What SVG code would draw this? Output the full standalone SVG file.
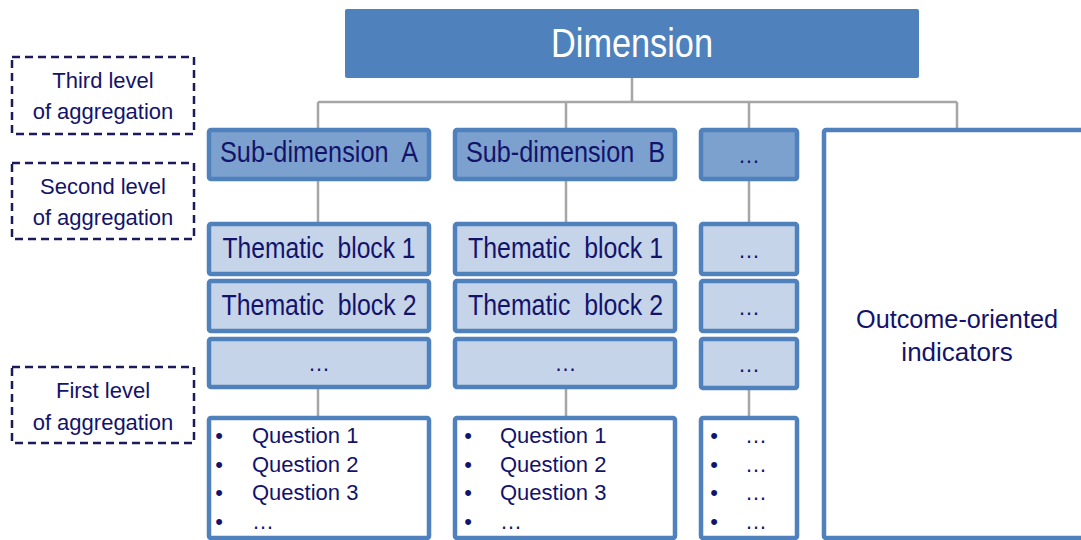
<svg xmlns="http://www.w3.org/2000/svg" width="1081" height="540" viewBox="0 0 1081 540">
<style>
  text { font-family: "Liberation Sans", Arial, sans-serif; fill: #13136b; }
  .mid { text-anchor: middle; }
  .dim { fill: #4f81bd; }
  .sub { fill: #7ca1cf; stroke: #4f81bd; stroke-width: 4.5; }
  .tb { fill: #c6d4ea; stroke: #4f81bd; stroke-width: 4.5; }
  .q { fill: #ffffff; stroke: #4f81bd; stroke-width: 4.5; }
  .lvl { fill: none; stroke: #1b1b5c; stroke-width: 2.5; stroke-dasharray: 8 5; }
  .conn line { stroke: #a6a6a6; stroke-width: 2.5; }
  .big { font-size: 30px; }
  .lab { font-size: 22px; }
</style>
<rect width="1081" height="540" fill="#ffffff"/>

<g id="connectors" class="conn">
  <line x1="632" y1="78" x2="632" y2="102"/>
  <line x1="318" y1="102" x2="957" y2="102"/>
  <line x1="318" y1="102" x2="318" y2="129"/>
  <line x1="566" y1="102" x2="566" y2="129"/>
  <line x1="749" y1="102" x2="749" y2="129"/>
  <line x1="957" y1="102" x2="957" y2="129"/>
  <line x1="318" y1="180" x2="318" y2="223"/>
  <line x1="566" y1="180" x2="566" y2="223"/>
  <line x1="749" y1="180" x2="749" y2="223"/>
  <line x1="318" y1="388" x2="318" y2="417"/>
  <line x1="566" y1="388" x2="566" y2="417"/>
  <line x1="749" y1="389" x2="749" y2="417"/>
</g>

<g id="dimension">
  <rect class="dim" x="345" y="9" width="574" height="69" rx="2"/>
  <text class="mid" x="632" y="57" font-size="40" textLength="162" lengthAdjust="spacingAndGlyphs" style="fill:#ffffff">Dimension</text>
</g>

<g id="level3">
  <rect class="lvl" x="12" y="57" width="182" height="77"/>
  <text class="mid lab" x="103" y="88">Third level</text>
  <text class="mid lab" x="103" y="119">of aggregation</text>
</g>
<g id="level2">
  <rect class="lvl" x="12" y="163" width="182" height="76"/>
  <text class="mid lab" x="103" y="194">Second level</text>
  <text class="mid lab" x="103" y="225">of aggregation</text>
</g>
<g id="level1">
  <rect class="lvl" x="12" y="367" width="182" height="76"/>
  <text class="mid lab" x="103" y="398">First level</text>
  <text class="mid lab" x="103" y="430">of aggregation</text>
</g>

<g id="subA">
  <rect class="sub" x="209" y="130" width="220" height="49" rx="2"/>
  <text class="mid big" x="319" y="162" textLength="198" lengthAdjust="spacingAndGlyphs" xml:space="preserve">Sub-dimension  A</text>
</g>
<g id="subB">
  <rect class="sub" x="455" y="130" width="220" height="49" rx="2"/>
  <text class="mid big" x="565.5" y="162" textLength="199" lengthAdjust="spacingAndGlyphs" xml:space="preserve">Sub-dimension  B</text>
</g>
<g id="subC">
  <rect class="sub" x="701" y="130" width="96" height="49" rx="2"/>
  <text class="mid lab" x="749" y="163">…</text>
</g>

<g id="tbA1">
  <rect class="tb" x="209" y="224" width="220" height="50" rx="2"/>
  <text class="mid big" x="319" y="258" textLength="193" lengthAdjust="spacingAndGlyphs" xml:space="preserve">Thematic  block 1</text>
</g>
<g id="tbA2">
  <rect class="tb" x="209" y="281" width="220" height="50" rx="2"/>
  <text class="mid big" x="319" y="315" textLength="195" lengthAdjust="spacingAndGlyphs" xml:space="preserve">Thematic  block 2</text>
</g>
<g id="tbA3">
  <rect class="tb" x="209" y="339" width="220" height="48" rx="2"/>
  <text class="mid lab" x="319" y="371">…</text>
</g>
<g id="tbB1">
  <rect class="tb" x="455" y="224" width="220" height="50" rx="2"/>
  <text class="mid big" x="565.5" y="258" textLength="195" lengthAdjust="spacingAndGlyphs" xml:space="preserve">Thematic  block 1</text>
</g>
<g id="tbB2">
  <rect class="tb" x="455" y="281" width="220" height="50" rx="2"/>
  <text class="mid big" x="565.5" y="315" textLength="195" lengthAdjust="spacingAndGlyphs" xml:space="preserve">Thematic  block 2</text>
</g>
<g id="tbB3">
  <rect class="tb" x="455" y="339" width="220" height="48" rx="2"/>
  <text class="mid lab" x="565.5" y="371">…</text>
</g>
<g id="tbC1">
  <rect class="tb" x="701" y="224" width="96" height="50" rx="2"/>
  <text class="mid lab" x="749" y="258">…</text>
</g>
<g id="tbC2">
  <rect class="tb" x="701" y="281" width="96" height="50" rx="2"/>
  <text class="mid lab" x="749" y="315">…</text>
</g>
<g id="tbC3">
  <rect class="tb" x="701" y="339" width="96" height="49" rx="2"/>
  <text class="mid lab" x="749" y="372">…</text>
</g>

<g id="questionsA">
  <rect class="q" x="209" y="418" width="220" height="120" rx="2"/>
  <text class="mid lab" x="219" y="443">•</text>
  <text class="mid lab" x="219" y="471.5">•</text>
  <text class="mid lab" x="219" y="500">•</text>
  <text class="mid lab" x="219" y="528.5">•</text>
  <text class="lab" x="252" y="443">Question 1</text>
  <text class="lab" x="252" y="471.5">Question 2</text>
  <text class="lab" x="252" y="500">Question 3</text>
  <text class="lab" x="252" y="528.5">…</text>
</g>
<g id="questionsB">
  <rect class="q" x="455" y="418" width="220" height="120" rx="2"/>
  <text class="mid lab" x="468" y="443">•</text>
  <text class="mid lab" x="468" y="471.5">•</text>
  <text class="mid lab" x="468" y="500">•</text>
  <text class="mid lab" x="468" y="528.5">•</text>
  <text class="lab" x="500" y="443">Question 1</text>
  <text class="lab" x="500" y="471.5">Question 2</text>
  <text class="lab" x="500" y="500">Question 3</text>
  <text class="lab" x="500" y="528.5">…</text>
</g>
<g id="questionsC">
  <rect class="q" x="701" y="418" width="96" height="120" rx="2"/>
  <text class="mid lab" x="714" y="443">•</text>
  <text class="mid lab" x="714" y="471.5">•</text>
  <text class="mid lab" x="714" y="500">•</text>
  <text class="mid lab" x="714" y="528.5">•</text>
  <text class="mid lab" x="756" y="443">…</text>
  <text class="mid lab" x="756" y="471.5">…</text>
  <text class="mid lab" x="756" y="500">…</text>
  <text class="mid lab" x="756" y="528.5">…</text>
</g>

<g id="outcome">
  <rect class="q" x="824" y="130" width="300" height="408" rx="2"/>
  <text class="mid" x="957" y="328" font-size="26" textLength="202" lengthAdjust="spacingAndGlyphs">Outcome-oriented</text>
  <text class="mid" x="957" y="361" font-size="26">indicators</text>
</g>
</svg>
